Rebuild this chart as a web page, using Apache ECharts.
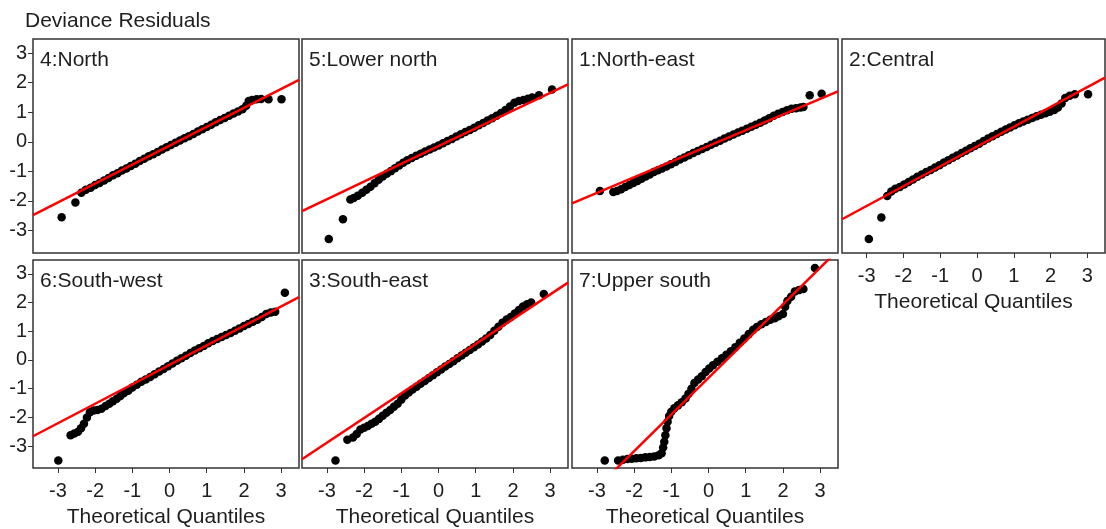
<!DOCTYPE html>
<html>
<head>
<meta charset="utf-8">
<title>Deviance Residuals</title>
<script src="https://cdn.jsdelivr.net/npm/echarts@6/dist/echarts.min.js"></script>
<style>
  html, body { margin: 0; padding: 0; background: #fff; }
  #chart { width: 1106px; height: 529px; }
</style>
</head>
<body>
<div id="chart"></div>
<script>
// panels in drawing order, row by row
const panelNames = ['4:North', '5:Lower north', '1:North-east', '2:Central', '6:South-west', '3:South-east', '7:Upper south']
const xTicks = [-3, -2, -1, 0, 1, 2, 3]
const yTicks = [-3, -2, -1, 0, 1, 2, 3]

// [theoretical quantile, deviance residual]
const ptsNorth = [[-2.90,-2.55],[-2.53,-2.05],[-2.37,-1.72],[-2.25,-1.62],[-2.12,-1.55],[-2.00,-1.46],[-1.88,-1.39],[-1.76,-1.31],[-1.64,-1.22],[-1.52,-1.13],[-1.40,-1.06],[-1.28,-0.97],[-1.16,-0.90],[-1.04,-0.82],[-0.92,-0.74],[-0.80,-0.65],[-0.68,-0.57],[-0.56,-0.49],[-0.44,-0.42],[-0.32,-0.34],[-0.20,-0.26],[-0.08,-0.18],[0.04,-0.11],[0.16,-0.03],[0.28,0.05],[0.40,0.12],[0.52,0.19],[0.64,0.27],[0.76,0.35],[0.88,0.43],[1.00,0.50],[1.12,0.58],[1.24,0.66],[1.36,0.74],[1.48,0.81],[1.60,0.88],[1.72,0.96],[1.84,1.03],[1.96,1.10],[2.06,1.22],[2.13,1.38],[2.22,1.42],[2.34,1.44],[2.46,1.45],[2.66,1.44],[3.01,1.44]]
const ptsLowerNorth = [[-2.95,-3.29],[-2.57,-2.62],[-2.37,-1.95],[-2.28,-1.90],[-2.17,-1.82],[-2.05,-1.72],[-1.94,-1.62],[-1.83,-1.52],[-1.72,-1.40],[-1.61,-1.28],[-1.50,-1.17],[-1.39,-1.08],[-1.28,-0.99],[-1.17,-0.89],[-1.06,-0.80],[-0.95,-0.71],[-0.84,-0.62],[-0.72,-0.55],[-0.60,-0.47],[-0.48,-0.40],[-0.36,-0.33],[-0.24,-0.26],[-0.12,-0.19],[0.00,-0.12],[0.12,-0.05],[0.24,0.03],[0.36,0.10],[0.48,0.18],[0.60,0.26],[0.72,0.33],[0.84,0.40],[0.96,0.48],[1.08,0.56],[1.20,0.64],[1.32,0.72],[1.44,0.80],[1.56,0.88],[1.68,0.98],[1.80,1.08],[1.92,1.20],[2.04,1.32],[2.16,1.38],[2.28,1.42],[2.40,1.46],[2.52,1.50],[2.70,1.58],[3.05,1.77]]
const ptsNorthEast = [[-2.92,-1.66],[-2.56,-1.70],[-2.46,-1.66],[-2.35,-1.60],[-2.24,-1.53],[-2.13,-1.46],[-2.02,-1.39],[-1.91,-1.32],[-1.80,-1.25],[-1.69,-1.17],[-1.58,-1.10],[-1.47,-1.02],[-1.36,-0.96],[-1.25,-0.90],[-1.13,-0.83],[-1.01,-0.76],[-0.89,-0.68],[-0.77,-0.60],[-0.65,-0.53],[-0.53,-0.45],[-0.41,-0.38],[-0.29,-0.31],[-0.17,-0.24],[-0.05,-0.17],[0.07,-0.10],[0.19,-0.03],[0.31,0.04],[0.43,0.11],[0.55,0.18],[0.67,0.25],[0.79,0.32],[0.91,0.38],[1.03,0.44],[1.15,0.51],[1.27,0.58],[1.39,0.65],[1.51,0.72],[1.63,0.80],[1.75,0.88],[1.87,0.95],[1.99,1.01],[2.11,1.07],[2.23,1.12],[2.35,1.14],[2.47,1.16],[2.55,1.18],[2.72,1.58],[3.04,1.63]]
const ptsCentral = [[-2.94,-3.29],[-2.60,-2.56],[-2.44,-1.83],[-2.33,-1.68],[-2.22,-1.59],[-2.10,-1.53],[-1.98,-1.44],[-1.86,-1.36],[-1.74,-1.27],[-1.62,-1.18],[-1.50,-1.10],[-1.38,-1.02],[-1.26,-0.95],[-1.14,-0.87],[-1.02,-0.79],[-0.90,-0.70],[-0.78,-0.62],[-0.66,-0.54],[-0.54,-0.46],[-0.42,-0.38],[-0.30,-0.30],[-0.18,-0.22],[-0.06,-0.14],[0.06,-0.06],[0.18,0.03],[0.30,0.11],[0.42,0.19],[0.54,0.27],[0.66,0.34],[0.78,0.42],[0.90,0.49],[1.02,0.56],[1.14,0.63],[1.26,0.69],[1.38,0.75],[1.50,0.81],[1.62,0.87],[1.74,0.92],[1.86,0.97],[1.98,1.02],[2.10,1.08],[2.20,1.16],[2.30,1.30],[2.40,1.48],[2.52,1.56],[2.66,1.61],[3.02,1.61]]
const ptsSouthWest = [[-2.99,-3.50],[-2.66,-2.62],[-2.56,-2.56],[-2.46,-2.50],[-2.38,-2.38],[-2.30,-2.22],[-2.22,-2.00],[-2.14,-1.82],[-2.04,-1.76],[-1.94,-1.74],[-1.83,-1.70],[-1.72,-1.60],[-1.62,-1.52],[-1.52,-1.44],[-1.42,-1.35],[-1.32,-1.25],[-1.22,-1.15],[-1.11,-1.07],[-1.00,-0.96],[-0.88,-0.86],[-0.76,-0.76],[-0.64,-0.68],[-0.52,-0.59],[-0.40,-0.50],[-0.28,-0.40],[-0.16,-0.31],[-0.04,-0.22],[0.08,-0.12],[0.20,-0.03],[0.32,0.06],[0.44,0.15],[0.56,0.24],[0.68,0.33],[0.80,0.41],[0.92,0.49],[1.04,0.58],[1.16,0.66],[1.28,0.73],[1.40,0.80],[1.52,0.87],[1.64,0.94],[1.76,1.02],[1.88,1.10],[2.00,1.18],[2.12,1.25],[2.24,1.33],[2.36,1.40],[2.48,1.50],[2.60,1.60],[2.72,1.65],[2.84,1.68],[3.10,2.34]]
const ptsSouthEast = [[-2.77,-3.50],[-2.45,-2.78],[-2.30,-2.70],[-2.20,-2.58],[-2.10,-2.42],[-2.00,-2.36],[-1.90,-2.30],[-1.80,-2.22],[-1.70,-2.15],[-1.60,-2.05],[-1.50,-1.94],[-1.40,-1.84],[-1.30,-1.74],[-1.20,-1.63],[-1.10,-1.52],[-1.00,-1.38],[-0.90,-1.24],[-0.80,-1.13],[-0.70,-1.03],[-0.59,-0.93],[-0.48,-0.83],[-0.37,-0.73],[-0.26,-0.63],[-0.15,-0.53],[-0.04,-0.43],[0.07,-0.33],[0.18,-0.23],[0.29,-0.14],[0.40,-0.04],[0.51,0.06],[0.62,0.16],[0.73,0.25],[0.84,0.35],[0.95,0.44],[1.06,0.54],[1.17,0.64],[1.28,0.75],[1.39,0.87],[1.50,1.02],[1.61,1.16],[1.72,1.30],[1.83,1.41],[1.94,1.50],[2.05,1.62],[2.16,1.74],[2.27,1.86],[2.38,1.94],[2.49,2.00],[2.83,2.30]]
const ptsUpperSouth = [[-2.79,-3.50],[-2.43,-3.50],[-2.30,-3.47],[-2.18,-3.45],[-2.06,-3.44],[-1.94,-3.42],[-1.82,-3.41],[-1.70,-3.39],[-1.58,-3.38],[-1.46,-3.36],[-1.34,-3.32],[-1.26,-3.25],[-1.22,-3.05],[-1.19,-2.85],[-1.16,-2.62],[-1.13,-2.38],[-1.10,-2.15],[-1.06,-1.95],[-1.00,-1.80],[-0.92,-1.68],[-0.82,-1.58],[-0.72,-1.47],[-0.62,-1.34],[-0.54,-1.18],[-0.46,-1.00],[-0.38,-0.80],[-0.28,-0.68],[-0.18,-0.57],[-0.08,-0.42],[0.02,-0.30],[0.12,-0.18],[0.24,-0.06],[0.36,0.06],[0.48,0.18],[0.60,0.30],[0.72,0.44],[0.84,0.60],[0.96,0.75],[1.08,0.90],[1.20,1.05],[1.30,1.15],[1.42,1.24],[1.54,1.32],[1.66,1.40],[1.78,1.45],[1.88,1.52],[2.00,1.60],[2.06,1.85],[2.12,2.05],[2.22,2.20],[2.32,2.38],[2.44,2.44],[2.55,2.47],[2.86,3.20]]
const panelPoints = [ptsNorth, ptsLowerNorth, ptsNorthEast, ptsCentral, ptsSouthWest, ptsSouthEast, ptsUpperSouth]

// reference line of each panel (qqline)
const lineIntercept = [-0.13, -0.14, -0.135, -0.16, -0.17, -0.30, -0.62]
const lineSlope = [0.64, 0.60, 0.53, 0.67, 0.677, 0.86, 1.277]

const X_MIN = -3.67, X_MAX = 3.48
const Y_MIN = -3.76, Y_MAX = 3.48

const colLeft = [33, 302, 572, 842]
const rowTop = [39, 260]
const panelW = 266
const panelH = 214
const font = '"Liberation Sans", Arial, sans-serif'
const textColor = '#1e1e1e'

const grid = [], xAxis = [], yAxis = [], series = []
const titles = [{
  text: 'Deviance Residuals',
  left: 25, top: 11, padding: 0,
  textStyle: { fontSize: 21, fontWeight: 'normal', color: textColor, fontFamily: font }
}]

panelNames.forEach((name, i) => {
  const row = i < 4 ? 0 : 1
  const col = i < 4 ? i : i - 4
  const left = colLeft[col]
  const top = rowTop[row]
  const showX = row === 1 || i === 3
  const showY = col === 0

  grid.push({
    left: left, top: top,
    width: Math.min(panelW, 1105 - left), height: panelH,
    show: true, borderColor: '#333', borderWidth: 1.5, backgroundColor: '#fff'
  })
  xAxis.push({
    gridIndex: i, type: 'value', min: X_MIN, max: X_MAX,
    axisLine: { show: false, onZero: false },
    splitLine: { show: false },
    axisTick: { show: showX, customValues: xTicks, length: 5, lineStyle: { color: '#333', width: 1 } },
    axisLabel: { show: showX, customValues: xTicks, fontSize: 20, color: textColor, fontFamily: font, margin: 13 },
    name: showX ? 'Theoretical Quantiles' : '',
    nameLocation: 'middle', nameGap: 39,
    nameTextStyle: { fontSize: 21, color: textColor, fontFamily: font }
  })
  yAxis.push({
    gridIndex: i, type: 'value', min: Y_MIN, max: Y_MAX,
    axisLine: { show: false, onZero: false },
    splitLine: { show: false },
    axisTick: { show: showY, customValues: yTicks, length: 5, lineStyle: { color: '#333', width: 1 } },
    axisLabel: { show: showY, customValues: yTicks, fontSize: 20, color: textColor, fontFamily: font, margin: 6 }
  })
  titles.push({
    text: name, left: left + 7, top: top + 11, padding: 0,
    textStyle: { fontSize: 21, fontWeight: 'normal', color: textColor, fontFamily: font }
  })
  series.push({
    type: 'scatter', xAxisIndex: i, yAxisIndex: i,
    data: panelPoints[i], symbol: 'circle', symbolSize: 8.5,
    itemStyle: { color: '#000', opacity: 1 }, z: 2
  })
  const a = lineIntercept[i], b = lineSlope[i]
  series.push({
    type: 'line', xAxisIndex: i, yAxisIndex: i,
    data: [[X_MIN, a + b * X_MIN], [X_MAX, a + b * X_MAX]],
    showSymbol: false, clip: true,
    lineStyle: { color: '#ff0000', width: 2.5 }, z: 3
  })
})

const chart = echarts.init(document.getElementById('chart'))
chart.setOption({
  animation: false,
  backgroundColor: '#fff',
  title: titles,
  grid: grid,
  xAxis: xAxis,
  yAxis: yAxis,
  series: series
})
</script>
</body>
</html>
